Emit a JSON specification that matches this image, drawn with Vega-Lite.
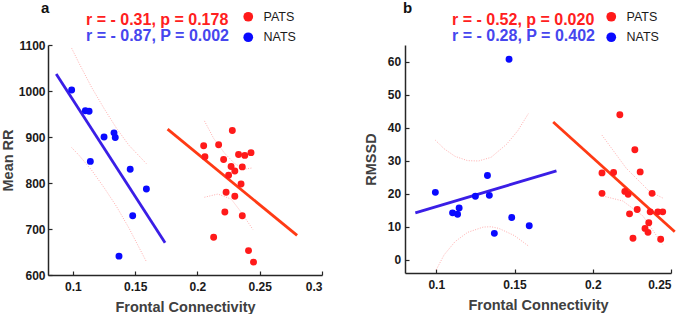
{
  "$schema": "https://vega.github.io/schema/vega-lite/v6.json",
  "padding": {"left": 0, "right": 0, "top": 0, "bottom": 0},
  "config": {
    "font": "Liberation Sans",
    "view": {"stroke": null},
    "axis": {"grid": false, "domainColor": "#262626", "domainWidth": 1.5, "tickColor": "#262626", "tickWidth": 1.2, "tickSize": -4, "labelFont": "Liberation Sans", "labelFontSize": 12, "labelFontWeight": "bold", "labelColor": "#1a1a1a", "titleFont": "Liberation Sans", "titleFontSize": 14.5, "titleFontWeight": "bold", "titleColor": "#404040"},
    "title": {"font": "Liberation Sans", "fontSize": 15, "fontWeight": "bold", "color": "#111111", "anchor": "start", "frame": "group"}
  },
  "resolve": {"scale": {"fill": "independent", "stroke": "independent"}},
  "spacing": 40,
  "datasets": {
    "a_pts": [
      {"group": "NATS", "fc": 0.099, "v": 1002}, {"group": "NATS", "fc": 0.110, "v": 957}, {"group": "NATS", "fc": 0.113, "v": 956},
      {"group": "NATS", "fc": 0.125, "v": 900}, {"group": "NATS", "fc": 0.133, "v": 909}, {"group": "NATS", "fc": 0.134, "v": 899},
      {"group": "NATS", "fc": 0.114, "v": 847}, {"group": "NATS", "fc": 0.146, "v": 830}, {"group": "NATS", "fc": 0.159, "v": 787},
      {"group": "NATS", "fc": 0.148, "v": 729}, {"group": "NATS", "fc": 0.137, "v": 641},
      {"group": "PATS", "fc": 0.228, "v": 914}, {"group": "PATS", "fc": 0.205, "v": 881}, {"group": "PATS", "fc": 0.217, "v": 883},
      {"group": "PATS", "fc": 0.206, "v": 857}, {"group": "PATS", "fc": 0.221, "v": 851}, {"group": "PATS", "fc": 0.233, "v": 862},
      {"group": "PATS", "fc": 0.238, "v": 860}, {"group": "PATS", "fc": 0.243, "v": 866}, {"group": "PATS", "fc": 0.227, "v": 836},
      {"group": "PATS", "fc": 0.236, "v": 835}, {"group": "PATS", "fc": 0.230, "v": 826}, {"group": "PATS", "fc": 0.225, "v": 817},
      {"group": "PATS", "fc": 0.235, "v": 798}, {"group": "PATS", "fc": 0.223, "v": 780}, {"group": "PATS", "fc": 0.230, "v": 771},
      {"group": "PATS", "fc": 0.222, "v": 737}, {"group": "PATS", "fc": 0.236, "v": 729}, {"group": "PATS", "fc": 0.213, "v": 682},
      {"group": "PATS", "fc": 0.241, "v": 653}, {"group": "PATS", "fc": 0.245, "v": 628}
    ],
    "a_fit": [
      {"stat": "r = - 0.31, p = 0.178", "fc": 0.176, "v": 917}, {"stat": "r = - 0.31, p = 0.178", "fc": 0.280, "v": 686},
      {"stat": "r = - 0.87, P = 0.002", "fc": 0.0866, "v": 1037}, {"stat": "r = - 0.87, P = 0.002", "fc": 0.174, "v": 670}
    ],
    "a_ci": [
      {"band": "NU", "fc": 0.099, "v": 1093}, {"band": "NU", "fc": 0.105, "v": 1060}, {"band": "NU", "fc": 0.115, "v": 1008}, {"band": "NU", "fc": 0.125, "v": 962}, {"band": "NU", "fc": 0.135, "v": 919}, {"band": "NU", "fc": 0.145, "v": 882}, {"band": "NU", "fc": 0.159, "v": 842},
      {"band": "NL", "fc": 0.099, "v": 877}, {"band": "NL", "fc": 0.105, "v": 860}, {"band": "NL", "fc": 0.115, "v": 828}, {"band": "NL", "fc": 0.125, "v": 790}, {"band": "NL", "fc": 0.135, "v": 749}, {"band": "NL", "fc": 0.145, "v": 702}, {"band": "NL", "fc": 0.159, "v": 629},
      {"band": "PU", "fc": 0.2056, "v": 935}, {"band": "PU", "fc": 0.213, "v": 897}, {"band": "PU", "fc": 0.2217, "v": 865}, {"band": "PU", "fc": 0.230, "v": 842}, {"band": "PU", "fc": 0.2377, "v": 830}, {"band": "PU", "fc": 0.2445, "v": 833},
      {"band": "PL", "fc": 0.2056, "v": 769}, {"band": "PL", "fc": 0.2164, "v": 776}, {"band": "PL", "fc": 0.2271, "v": 765}, {"band": "PL", "fc": 0.235, "v": 737}, {"band": "PL", "fc": 0.2445, "v": 699}
    ],
    "b_pts": [
      {"group": "NATS", "fc": 0.0994, "v": 20.4}, {"group": "NATS", "fc": 0.1104, "v": 14.2}, {"group": "NATS", "fc": 0.1136, "v": 13.8},
      {"group": "NATS", "fc": 0.1146, "v": 15.7}, {"group": "NATS", "fc": 0.125, "v": 19.2}, {"group": "NATS", "fc": 0.1327, "v": 25.5},
      {"group": "NATS", "fc": 0.1339, "v": 19.5}, {"group": "NATS", "fc": 0.1371, "v": 8.0}, {"group": "NATS", "fc": 0.1482, "v": 12.8},
      {"group": "NATS", "fc": 0.1594, "v": 10.3}, {"group": "NATS", "fc": 0.1465, "v": 60.7},
      {"group": "PATS", "fc": 0.2173, "v": 43.9}, {"group": "PATS", "fc": 0.2269, "v": 33.3}, {"group": "PATS", "fc": 0.2059, "v": 26.3},
      {"group": "PATS", "fc": 0.2133, "v": 26.4}, {"group": "PATS", "fc": 0.2303, "v": 26.6}, {"group": "PATS", "fc": 0.2059, "v": 20.1},
      {"group": "PATS", "fc": 0.2205, "v": 20.7}, {"group": "PATS", "fc": 0.2226, "v": 19.8}, {"group": "PATS", "fc": 0.2379, "v": 20.1},
      {"group": "PATS", "fc": 0.2284, "v": 15.2}, {"group": "PATS", "fc": 0.2235, "v": 13.9}, {"group": "PATS", "fc": 0.2367, "v": 14.5},
      {"group": "PATS", "fc": 0.2416, "v": 14.5}, {"group": "PATS", "fc": 0.2447, "v": 14.5}, {"group": "PATS", "fc": 0.2358, "v": 11.2},
      {"group": "PATS", "fc": 0.2334, "v": 9.5}, {"group": "PATS", "fc": 0.2353, "v": 8.3}, {"group": "PATS", "fc": 0.2257, "v": 6.5},
      {"group": "PATS", "fc": 0.2434, "v": 6.2}
    ],
    "b_fit": [
      {"stat": "r = - 0.52, p = 0.020", "fc": 0.1747, "v": 41.7}, {"stat": "r = - 0.52, p = 0.020", "fc": 0.2524, "v": 8.5},
      {"stat": "r = - 0.28, P = 0.402", "fc": 0.0866, "v": 14.2}, {"stat": "r = - 0.28, P = 0.402", "fc": 0.1768, "v": 26.9}
    ],
    "b_ci": [
      {"band": "NU", "fc": 0.0994, "v": 36.2}, {"band": "NU", "fc": 0.105, "v": 33.6}, {"band": "NU", "fc": 0.112, "v": 31.3}, {"band": "NU", "fc": 0.12, "v": 30.0}, {"band": "NU", "fc": 0.127, "v": 29.9}, {"band": "NU", "fc": 0.135, "v": 31.0}, {"band": "NU", "fc": 0.145, "v": 35.0}, {"band": "NU", "fc": 0.152, "v": 39.0}, {"band": "NU", "fc": 0.1588, "v": 44.2},
      {"band": "NL", "fc": 0.1, "v": -3}, {"band": "NL", "fc": 0.105, "v": 1.5}, {"band": "NL", "fc": 0.112, "v": 5.5}, {"band": "NL", "fc": 0.12, "v": 8.3}, {"band": "NL", "fc": 0.13, "v": 9.9}, {"band": "NL", "fc": 0.135, "v": 10.0}, {"band": "NL", "fc": 0.14, "v": 9.5}, {"band": "NL", "fc": 0.15, "v": 7.3}, {"band": "NL", "fc": 0.1588, "v": 4.2},
      {"band": "PU", "fc": 0.2059, "v": 37.7}, {"band": "PU", "fc": 0.2214, "v": 27.7}, {"band": "PU", "fc": 0.2362, "v": 20.7}, {"band": "PU", "fc": 0.2447, "v": 18.7},
      {"band": "PL", "fc": 0.2065, "v": 19.3}, {"band": "PL", "fc": 0.2192, "v": 17.8}, {"band": "PL", "fc": 0.232, "v": 13.3}, {"band": "PL", "fc": 0.2447, "v": 4.6}
    ]
  },
  "hconcat": [
    {
      "width": 274,
      "height": 230,
      "title": {"text": "a", "dx": -7, "offset": -5},
      "encoding": {
        "x": {"field": "fc", "type": "quantitative", "scale": {"domain": [0.08, 0.3], "nice": false, "zero": false}, "axis": {"title": "Frontal Connectivity", "values": [0.1, 0.15, 0.2, 0.25, 0.3], "format": ".2~f", "labelPadding": 10, "titlePadding": 8}},
        "y": {"field": "v", "type": "quantitative", "scale": {"domain": [600, 1100], "nice": false, "zero": false}, "axis": {"title": "Mean RR", "values": [600, 700, 800, 900, 1000, 1100], "format": "d", "labelPadding": 7, "titlePadding": 3}}
      },
      "layer": [
        {"data": {"name": "a_ci"}, "mark": {"type": "line", "color": "#ff8a8a", "strokeWidth": 0.7, "strokeDash": [1, 1.5]}, "encoding": {"detail": {"field": "band"}}},
        {"data": {"name": "a_fit"}, "mark": {"type": "line", "strokeWidth": 2.8},
         "encoding": {"stroke": {"field": "stat", "type": "nominal", "scale": {"domain": ["r = - 0.31, p = 0.178", "r = - 0.87, P = 0.002"], "range": ["#ff3a14", "#3a1ee6"]},
           "legend": {"orient": "none", "legendX": 22, "legendY": -33.5, "title": null, "symbolSize": 1, "symbolOpacity": 0, "symbolStrokeWidth": 0, "labelFont": "Liberation Sans", "labelFontSize": 16, "labelFontWeight": "bold", "labelOffset": 0, "rowPadding": 0, "padding": 0, "labelLimit": 300,
             "encode": {"labels": {"update": {"fill": {"signal": "datum.index === 0 ? '#ff2020' : '#4646ee'"}}}}}}}},
        {"data": {"name": "a_pts"}, "mark": {"type": "circle", "size": 48, "opacity": 1},
         "encoding": {"fill": {"field": "group", "type": "nominal", "scale": {"domain": ["PATS", "NATS"], "range": ["#ff1a1a", "#0a0aff"]},
           "legend": {"orient": "none", "legendX": 194, "legendY": -34.5, "title": null, "symbolType": "circle", "symbolSize": 95, "symbolStrokeWidth": 0, "symbolOpacity": 1, "labelFont": "Liberation Sans", "labelFontSize": 12.5, "labelColor": "#1a1a1a", "labelOffset": 9, "rowPadding": 7.5, "padding": 0}}}}
      ]
    },
    {
      "width": 266,
      "height": 228,
      "title": {"text": "b", "dx": -2, "offset": -5},
      "encoding": {
        "x": {"field": "fc", "type": "quantitative", "scale": {"domain": [0.08, 0.25], "nice": false, "zero": false}, "axis": {"title": "Frontal Connectivity", "values": [0.1, 0.15, 0.2, 0.25], "format": ".2~f", "labelPadding": 10, "titlePadding": 8}},
        "y": {"field": "v", "type": "quantitative", "scale": {"domain": [-4, 65], "nice": false, "zero": false}, "axis": {"title": "RMSSD", "values": [0, 10, 20, 30, 40, 50, 60], "labelPadding": 8.3, "titlePadding": 9}}
      },
      "layer": [
        {"data": {"name": "b_ci"}, "mark": {"type": "line", "color": "#ff8a8a", "strokeWidth": 0.7, "strokeDash": [1, 1.5]}, "encoding": {"detail": {"field": "band"}}},
        {"data": {"name": "b_fit"}, "mark": {"type": "line", "strokeWidth": 2.8},
         "encoding": {"stroke": {"field": "stat", "type": "nominal", "scale": {"domain": ["r = - 0.52, p = 0.020", "r = - 0.28, P = 0.402"], "range": ["#ff3a14", "#3a1ee6"]},
           "legend": {"orient": "none", "legendX": 31, "legendY": -33.5, "title": null, "symbolSize": 1, "symbolOpacity": 0, "symbolStrokeWidth": 0, "labelFont": "Liberation Sans", "labelFontSize": 16, "labelFontWeight": "bold", "labelOffset": 0, "rowPadding": 0, "padding": 0, "labelLimit": 300,
             "encode": {"labels": {"update": {"fill": {"signal": "datum.index === 0 ? '#ff2020' : '#4646ee'"}}}}}}}},
        {"data": {"name": "b_pts"}, "mark": {"type": "circle", "size": 48, "opacity": 1},
         "encoding": {"fill": {"field": "group", "type": "nominal", "scale": {"domain": ["PATS", "NATS"], "range": ["#ff1a1a", "#0a0aff"]},
           "legend": {"orient": "none", "legendX": 200, "legendY": -34.5, "title": null, "symbolType": "circle", "symbolSize": 95, "symbolStrokeWidth": 0, "symbolOpacity": 1, "labelFont": "Liberation Sans", "labelFontSize": 12.5, "labelColor": "#1a1a1a", "labelOffset": 9, "rowPadding": 7.5, "padding": 0}}}}
      ]
    }
  ]
}
